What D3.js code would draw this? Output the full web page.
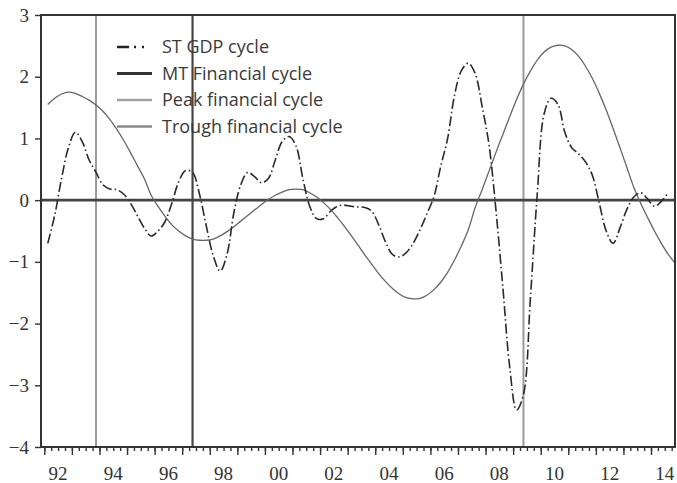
<!DOCTYPE html>
<html>
<head>
<meta charset="utf-8">
<script src="https://cdn.jsdelivr.net/npm/d3@7"></script>
<style>
  body { margin: 0; background: #fff; }
  svg { display: block; }
</style>
</head>
<body>
<svg id="chart"></svg>
<script>
// quarterly data, 1992Q1 onwards
var startYear = 1992;
var stGdp = [-0.70, -0.25, 0.35, 0.85, 1.10, 0.95, 0.65, 0.45, 0.25, 0.18,
  0.17, 0.10, -0.05, -0.25, -0.45, -0.58, -0.50, -0.35, -0.05, 0.30,
  0.48, 0.45, 0.10, -0.42, -0.90, -1.15, -0.88, -0.20, 0.25, 0.45,
  0.38, 0.28, 0.35, 0.65, 0.95, 1.03, 0.88, 0.35, -0.10, -0.30,
  -0.30, -0.18, -0.10, -0.08, -0.10, -0.11, -0.12, -0.18, -0.40, -0.68,
  -0.88, -0.92, -0.85, -0.70, -0.48, -0.22, 0.05, 0.55, 1.00, 1.70,
  2.10, 2.22, 2.05, 1.52, 0.90, -0.15, -1.40, -2.70, -3.40, -3.15,
  -1.60, 0.10, 1.40, 1.65, 1.55, 1.10, 0.85, 0.75, 0.62, 0.40,
  -0.05, -0.50, -0.70, -0.45, -0.15, 0.05, 0.12, 0.02, -0.10, -0.02,
  0.12];
var mtFin = [1.55, 1.65, 1.72, 1.75, 1.73, 1.68, 1.62, 1.54, 1.44, 1.31,
  1.15, 0.97, 0.77, 0.56, 0.35, 0.08, -0.10, -0.26, -0.40, -0.50,
  -0.58, -0.63, -0.65, -0.65, -0.63, -0.58, -0.51, -0.43, -0.34, -0.25,
  -0.16, -0.07, 0.01, 0.08, 0.13, 0.17, 0.18, 0.17, 0.12, 0.05,
  -0.04, -0.15, -0.28, -0.42, -0.57, -0.73, -0.89, -1.04, -1.19, -1.32,
  -1.43, -1.52, -1.58, -1.60, -1.59, -1.54, -1.45, -1.33, -1.17, -0.97,
  -0.74, -0.48, -0.12, 0.17, 0.47, 0.77, 1.06, 1.35, 1.63, 1.88,
  2.09, 2.27, 2.40, 2.48, 2.51, 2.50, 2.44, 2.33, 2.17, 1.97,
  1.73, 1.46, 1.16, 0.85, 0.53, 0.21, -0.05, -0.28, -0.50, -0.70,
  -0.88, -1.02];
var peakDates = [1993.875, 2009.375];
var troughDates = [1997.375];
var yTicks = [-4, -3, -2, -1, 0, 1, 2, 3];
var xLabelYears = [1992, 1994, 1996, 1998, 2000, 2002, 2004, 2006, 2008, 2010, 2012, 2014];
var legendNames = ["ST GDP cycle", "MT Financial cycle", "Peak financial cycle", "Trough financial cycle"];

var serifFont = "'Liberation Serif', 'Times New Roman', Times, 'DejaVu Serif', 'Noto Serif', FreeSerif, Georgia, serif";

var width = 677, height = 483;
var margin = { left: 41, top: 15, right: 2, bottom: 36 };
var svg = d3.select("#chart").attr("width", width).attr("height", height);

// 比例尺
var x = d3.scaleLinear().domain([1991.88, 2014.87]).range([margin.left, width - margin.right]);
var y = d3.scaleLinear().domain([-4, 3]).range([height - margin.bottom, margin.top]);

var qt = function (i) { return startYear + (i + 0.5) / 4; };

// x ticks: quarters (short) and years (long)
var quarterTicks = d3.range(1992, 2015, 0.25);
var yearTicks = d3.range(1992, 2015, 1);
var xAxisG = svg.append("g").attr("transform", "translate(0," + y(-4) + ")");
xAxisG.call(d3.axisBottom(x).tickValues(quarterTicks).tickSize(4).tickFormat(""));
xAxisG.append("g").call(d3.axisBottom(x).tickValues(yearTicks).tickSize(8).tickFormat(""));
svg.selectAll(".domain").remove();
svg.selectAll(".tick line").attr("stroke", "#333").attr("stroke-width", 1.4);

svg.append("g").selectAll("text").data(xLabelYears).enter().append("text")
  .attr("x", function (d) { return x(d + 0.5); })
  .attr("y", 480)
  .attr("text-anchor", "middle")
  .style("font-family", serifFont)
  .style("font-size", "19px")
  .attr("fill", "#333")
  .text(function (d) { return String(d).slice(2); });

// y axis
var yAxisG = svg.append("g").attr("transform", "translate(" + margin.left + ",0)")
  .call(d3.axisLeft(y).tickValues(yTicks).tickSize(6).tickPadding(6)
    .tickFormat(function (d) { return d < 0 ? "\u2212" + Math.abs(d) : d; }));
yAxisG.select(".domain").remove();
yAxisG.selectAll(".tick line").attr("stroke", "#333").attr("stroke-width", 1.4);
yAxisG.selectAll("text")
  .style("font-family", serifFont)
  .style("font-size", "19px").attr("fill", "#333").attr("dy", "0.32em");

// 竖线
var vlines = svg.append("g");
vlines.selectAll("line.peak").data(peakDates).enter().append("line").attr("class", "peak")
  .attr("x1", function (d) { return x(d); }).attr("x2", function (d) { return x(d); })
  .attr("y1", y(3)).attr("y2", y(-4))
  .attr("stroke", "#9a9a9a").attr("stroke-width", 2);
vlines.selectAll("line.trough").data(troughDates).enter().append("line").attr("class", "trough")
  .attr("x1", function (d) { return x(d); }).attr("x2", function (d) { return x(d); })
  .attr("y1", y(3)).attr("y2", y(-4))
  .attr("stroke", "#444").attr("stroke-width", 2.2);

// zero line
svg.append("line").attr("x1", x.range()[0]).attr("x2", x.range()[1])
  .attr("y1", y(0)).attr("y2", y(0)).attr("stroke", "#444").attr("stroke-width", 2.6);

// 曲线
var line = d3.line()
  .x(function (d, i) { return x(qt(i)); })
  .y(function (d) { return y(d); })
  .curve(d3.curveCatmullRom.alpha(0.5));

svg.append("path").datum(mtFin)
  .attr("fill", "none").attr("stroke", "#666").attr("stroke-width", 1.3)
  .attr("d", line);

svg.append("path").datum(stGdp)
  .attr("fill", "none").attr("stroke", "#2a2a2a").attr("stroke-width", 1.6)
  .attr("stroke-dasharray", "10,3,1.5,3")
  .attr("d", line);

// frame
svg.append("rect")
  .attr("x", x.range()[0]).attr("y", y(3))
  .attr("width", x.range()[1] - x.range()[0]).attr("height", y(-4) - y(3))
  .attr("fill", "none").attr("stroke", "#333").attr("stroke-width", 2);

// 图例
var legendStyles = [
  { stroke: "#222", width: 2.5, dash: "12,5,2,6,2,8" },
  { stroke: "#333", width: 3.2, dash: null },
  { stroke: "#a0a0a0", width: 2.6, dash: null },
  { stroke: "#8a8a8a", width: 2.6, dash: null }
];
var legend = svg.append("g");
var rows = legend.selectAll("g").data(legendNames).enter().append("g")
  .attr("transform", function (d, i) { return "translate(117," + (47 + i * 26.5) + ")"; });
rows.append("line").attr("x1", 0).attr("x2", 35).attr("y1", 0).attr("y2", 0)
  .attr("stroke", function (d, i) { return legendStyles[i].stroke; })
  .attr("stroke-width", function (d, i) { return legendStyles[i].width; })
  .attr("stroke-dasharray", function (d, i) { return legendStyles[i].dash; });
rows.append("text").attr("x", 45).attr("y", 0).attr("dy", "0.35em")
  .style("font-family", "'Open Sans', 'Noto Sans', sans-serif")
  .style("font-size", "18px").attr("fill", "#3a3a3a")
  .text(function (d) { return d; });
</script>
</body>
</html>
